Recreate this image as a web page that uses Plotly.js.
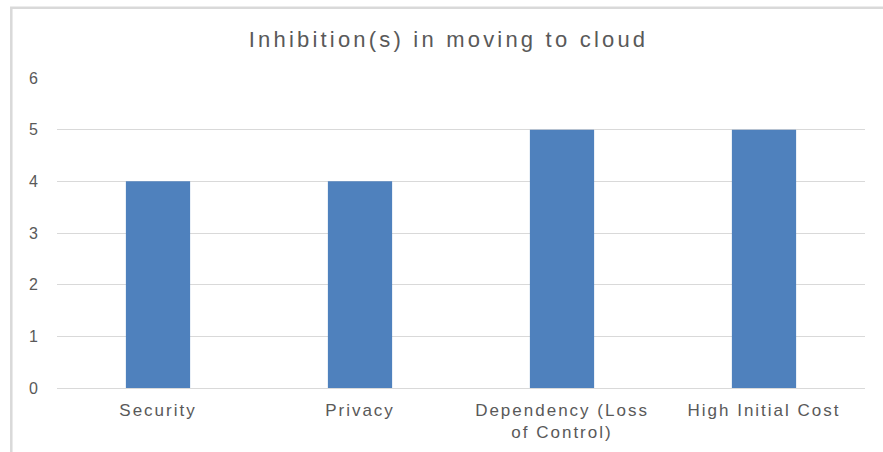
<!DOCTYPE html>
<html>
<head>
<meta charset="utf-8">
<script src="https://cdn.plot.ly/plotly-3.0.1.min.js"></script>
<style>
  html, body { margin: 0; padding: 0; background: #ffffff; }
  #chart { width: 883px; height: 452px; }
  .gtitle { letter-spacing: 3.2px; }
  .xtick text { letter-spacing: 2px; }
</style>
</head>
<body>
<div id="chart"></div>
<script>
const categories = ["Security", "Privacy", "Dependency (Loss<br>of Control)", "High Initial Cost"];
const values = [4, 4, 5, 5];
const yTicks = [0, 1, 2, 3, 4, 5, 6];
const chartTitle = "Inhibition(s) in moving to cloud";

const W = 883, H = 452;
const L = 57, R = 18, T = 78, B = 64;
const pw = W - L - R, ph = H - T - B;
function px2paperX(px) { return (px - L) / pw; }
function px2paperY(py) { return (H - B - py) / ph; }

const trace = {
  type: "bar",
  x: categories,
  y: values,
  marker: { color: "#4f81bd" },
  hoverinfo: "x+y"
};

const layout = {
  width: W,
  height: H,
  margin: { l: L, r: R, t: T, b: B, pad: 0 },
  paper_bgcolor: "#ffffff",
  plot_bgcolor: "#ffffff",
  showlegend: false,
  bargap: 0.682,
  font: { family: "Liberation Sans, Arial, sans-serif", color: "#595959" },
  title: {
    text: chartTitle,
    font: { family: "Liberation Sans, Arial, sans-serif", size: 22, color: "#595959" },
    xref: "container", yref: "container",
    x: 448.5 / W, xanchor: "center",
    y: 1 - 39.5 / H, yanchor: "middle"
  },
  xaxis: {
    type: "category",
    showgrid: false,
    showline: false,
    zeroline: false,
    ticks: "",
    tickfont: { size: 17, color: "#595959" },
    ticklabelstandoff: 10
  },
  yaxis: {
    range: [0, 6],
    tickvals: yTicks,
    ticktext: yTicks.map(String),
    showgrid: true,
    gridcolor: "#d9d9d9",
    gridwidth: 1,
    zeroline: true,
    zerolinecolor: "#d9d9d9",
    zerolinewidth: 1,
    showline: false,
    ticks: "",
    tickfont: { size: 16, color: "#595959" },
    ticklabelstandoff: 18,
    fixedrange: true
  },
  shapes: [{
    type: "rect",
    xref: "paper", yref: "paper",
    x0: px2paperX(11.3), x1: px2paperX(895),
    y0: px2paperY(465), y1: px2paperY(7.8),
    line: { color: "#d9d9d9", width: 2.5 },
    fillcolor: "rgba(0,0,0,0)",
    layer: "below"
  }]
};

Plotly.newPlot("chart", [trace], layout, { displayModeBar: false, staticPlot: true });
</script>
</body>
</html>
